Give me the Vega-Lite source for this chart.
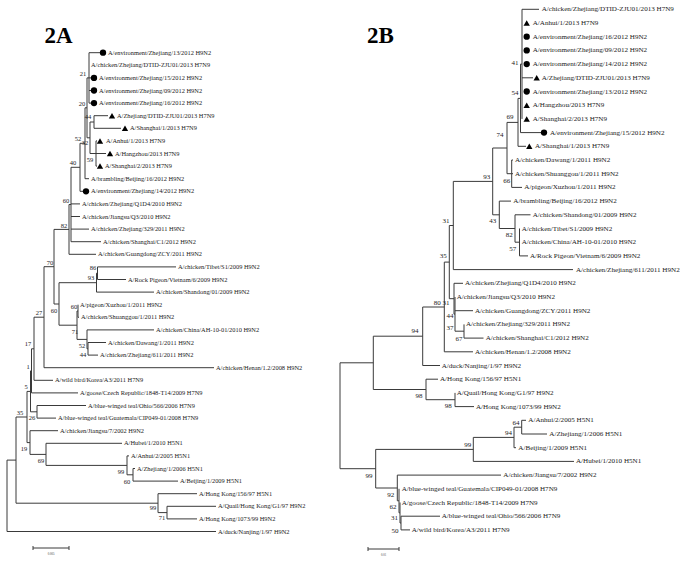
{
"$schema":"https://vega.github.io/schema/vega-lite/v6.json",
"width":683,"height":563,"padding":0,
"autosize":{"type":"fit","contains":"padding"},
"background":"white",
"config":{"view":{"stroke":null}},
"datasets":{
"segs":[
{"x":89,"x2":89,"y":52.7,"y2":103.1},{"x":94,"x2":94,"y":115.7,"y2":128.3},{"x":96,"x2":96,"y":140.9,"y2":166.1},{"x":90,"x2":90,"y":122,"y2":153.5},{"x":87,"x2":87,"y":77.9,"y2":137.8},{"x":85,"x2":85,"y":107.8,"y2":178.7},{"x":80,"x2":80,"y":143.3,"y2":191.3},{"x":71,"x2":71,"y":167.3,"y2":241.7},{"x":69,"x2":69,"y":204.5,"y2":254.3},{"x":97.5,"x2":97.5,"y":266.9,"y2":279.5},{"x":96.5,"x2":96.5,"y":273.2,"y2":292.1},{"x":78,"x2":78,"y":304.7,"y2":317.3},{"x":88,"x2":88,"y":342.5,"y2":355.1},{"x":87,"x2":87,"y":329.9,"y2":348.8},{"x":77,"x2":77,"y":311,"y2":339.4},{"x":59,"x2":59,"y":282.7,"y2":325.2},{"x":54,"x2":54,"y":229.4,"y2":304},{"x":44,"x2":44,"y":266.7,"y2":367.7},{"x":34,"x2":34,"y":317.2,"y2":380.3},{"x":31.5,"x2":31.5,"y":348.8,"y2":392.9},{"x":37,"x2":37,"y":405.5,"y2":418.1},{"x":30.5,"x2":30.5,"y":370.9,"y2":411.8},{"x":133,"x2":133,"y":468.5,"y2":481.1},{"x":127,"x2":127,"y":455.9,"y2":474.8},{"x":46,"x2":46,"y":443.3,"y2":465.4},{"x":30,"x2":30,"y":430.7,"y2":454.4},{"x":27,"x2":27,"y":391.4,"y2":442.6},{"x":167,"x2":167,"y":506.3,"y2":518.9},{"x":158,"x2":158,"y":493.7,"y2":512.6},{"x":16,"x2":16,"y":417,"y2":503.2},{"x":7,"x2":7,"y":460.1,"y2":531.5},
{"x":89,"x2":100,"y":52.7,"y2":52.7},{"x":89,"x2":91,"y":77.9,"y2":77.9},{"x":89,"x2":91,"y":90.5,"y2":90.5},{"x":89,"x2":91,"y":103.1,"y2":103.1},{"x":94,"x2":108,"y":115.7,"y2":115.7},{"x":94,"x2":121,"y":128.3,"y2":128.3},{"x":96,"x2":97,"y":140.9,"y2":140.9},{"x":96,"x2":106,"y":153.5,"y2":153.5},{"x":96,"x2":97,"y":166.1,"y2":166.1},{"x":85,"x2":89,"y":178.7,"y2":178.7},{"x":80,"x2":83,"y":191.3,"y2":191.3},{"x":71,"x2":80,"y":203.9,"y2":203.9},{"x":71,"x2":80,"y":216.5,"y2":216.5},{"x":71,"x2":89,"y":229.1,"y2":229.1},{"x":71,"x2":101,"y":241.7,"y2":241.7},{"x":69,"x2":96,"y":254.3,"y2":254.3},{"x":97.5,"x2":176,"y":266.9,"y2":266.9},{"x":97.5,"x2":126,"y":279.5,"y2":279.5},{"x":96.5,"x2":154,"y":292.1,"y2":292.1},{"x":78,"x2":79,"y":317.3,"y2":317.3},{"x":87,"x2":154,"y":329.9,"y2":329.9},{"x":88,"x2":106,"y":342.5,"y2":342.5},{"x":88,"x2":98,"y":355.1,"y2":355.1},{"x":44,"x2":214,"y":367.7,"y2":367.7},{"x":34,"x2":53,"y":380.3,"y2":380.3},{"x":31.5,"x2":78,"y":392.9,"y2":392.9},{"x":37,"x2":86,"y":405.5,"y2":405.5},{"x":37,"x2":56,"y":418.1,"y2":418.1},{"x":30,"x2":58,"y":430.7,"y2":430.7},{"x":46,"x2":122,"y":443.3,"y2":443.3},{"x":127,"x2":129,"y":455.9,"y2":455.9},{"x":133,"x2":135,"y":468.5,"y2":468.5},{"x":133,"x2":178,"y":481.1,"y2":481.1},{"x":158,"x2":197,"y":493.7,"y2":493.7},{"x":167,"x2":216,"y":506.3,"y2":506.3},{"x":167,"x2":197,"y":518.9,"y2":518.9},{"x":7,"x2":216,"y":531.5,"y2":531.5},
{"x":87,"x2":89,"y":77.9,"y2":77.9},{"x":90,"x2":94,"y":122,"y2":122},{"x":90,"x2":96,"y":153.5,"y2":153.5},{"x":87,"x2":90,"y":137.8,"y2":137.8},{"x":85,"x2":87,"y":107.8,"y2":107.8},{"x":80,"x2":85,"y":143.3,"y2":143.3},{"x":71,"x2":80,"y":167.3,"y2":167.3},{"x":69,"x2":71,"y":204.5,"y2":204.5},{"x":54,"x2":69,"y":229.4,"y2":229.4},{"x":96.5,"x2":97.5,"y":273.2,"y2":273.2},{"x":59,"x2":96.5,"y":282.7,"y2":282.7},{"x":77,"x2":78,"y":311,"y2":311},{"x":87,"x2":88,"y":348.8,"y2":348.8},{"x":77,"x2":87,"y":339.4,"y2":339.4},{"x":59,"x2":77,"y":325.2,"y2":325.2},{"x":54,"x2":59,"y":304,"y2":304},{"x":44,"x2":54,"y":266.7,"y2":266.7},{"x":34,"x2":44,"y":317.2,"y2":317.2},{"x":31.5,"x2":34,"y":348.8,"y2":348.8},{"x":30.5,"x2":31.5,"y":370.9,"y2":370.9},{"x":30.5,"x2":37,"y":411.8,"y2":411.8},{"x":27,"x2":30.5,"y":391.4,"y2":391.4},{"x":127,"x2":133,"y":474.8,"y2":474.8},{"x":46,"x2":127,"y":465.4,"y2":465.4},{"x":30,"x2":46,"y":454.4,"y2":454.4},{"x":27,"x2":30,"y":442.6,"y2":442.6},{"x":16,"x2":27,"y":417,"y2":417},{"x":158,"x2":167,"y":512.6,"y2":512.6},{"x":16,"x2":158,"y":503.2,"y2":503.2},{"x":7,"x2":16,"y":460.1,"y2":460.1},
{"x":522,"x2":522,"y":9.3,"y2":118.9},{"x":520.5,"x2":520.5,"y":64.1,"y2":132.6},{"x":518,"x2":518,"y":98.4,"y2":146.3},{"x":511.7,"x2":511.7,"y":160,"y2":187.4},{"x":507,"x2":507,"y":122.4,"y2":173.7},{"x":519.5,"x2":519.5,"y":228.5,"y2":255.9},{"x":515,"x2":515,"y":214.8,"y2":242.2},{"x":499.3,"x2":499.3,"y":201.1,"y2":228.5},{"x":492.7,"x2":492.7,"y":148,"y2":214.8},{"x":453.3,"x2":453.3,"y":181.4,"y2":269.6},{"x":464,"x2":464,"y":324.4,"y2":338.1},{"x":455,"x2":455,"y":297,"y2":331.2},{"x":454,"x2":454,"y":283.3,"y2":314.1},{"x":449.3,"x2":449.3,"y":225.5,"y2":298.7},{"x":444.3,"x2":444.3,"y":262.1,"y2":351.8},{"x":422.7,"x2":422.7,"y":307,"y2":365.5},{"x":455,"x2":455,"y":392.9,"y2":406.6},{"x":426,"x2":426,"y":379.2,"y2":399.7},{"x":373.3,"x2":373.3,"y":336.2,"y2":389.5},{"x":521.7,"x2":521.7,"y":420.3,"y2":434},{"x":514,"x2":514,"y":427.2,"y2":447.7},{"x":473.3,"x2":473.3,"y":437.4,"y2":461.4},{"x":401,"x2":401,"y":516.2,"y2":529.9},{"x":400,"x2":400,"y":502.5,"y2":523},{"x":399,"x2":399,"y":488.8,"y2":512.8},{"x":397.3,"x2":397.3,"y":475.1,"y2":500.8},{"x":375.7,"x2":375.7,"y":449.4,"y2":488},{"x":340,"x2":340,"y":362.8,"y2":468.7},
{"x":522,"x2":539,"y":9.3,"y2":9.3},{"x":522,"x2":533,"y":77.8,"y2":77.8},{"x":520.5,"x2":541,"y":132.6,"y2":132.6},{"x":518,"x2":526,"y":146.3,"y2":146.3},{"x":511.7,"x2":513,"y":160,"y2":160},{"x":511.7,"x2":513,"y":173.7,"y2":173.7},{"x":511.7,"x2":522,"y":187.4,"y2":187.4},{"x":499.3,"x2":511,"y":201.1,"y2":201.1},{"x":515,"x2":530.5,"y":214.8,"y2":214.8},{"x":519.5,"x2":528,"y":255.9,"y2":255.9},{"x":453.3,"x2":573,"y":269.6,"y2":269.6},{"x":454,"x2":463,"y":283.3,"y2":283.3},{"x":455,"x2":473,"y":310.7,"y2":310.7},{"x":464,"x2":483.5,"y":338.1,"y2":338.1},{"x":444.3,"x2":473,"y":351.8,"y2":351.8},{"x":422.7,"x2":440,"y":365.5,"y2":365.5},{"x":426,"x2":438,"y":379.2,"y2":379.2},{"x":455,"x2":474,"y":406.6,"y2":406.6},{"x":521.7,"x2":526,"y":420.3,"y2":420.3},{"x":521.7,"x2":547,"y":434,"y2":434},{"x":514,"x2":516,"y":447.7,"y2":447.7},{"x":473.3,"x2":574,"y":461.4,"y2":461.4},{"x":397.3,"x2":501,"y":475.1,"y2":475.1},{"x":401,"x2":440,"y":516.2,"y2":516.2},{"x":401,"x2":410,"y":529.9,"y2":529.9},
{"x":520.5,"x2":522,"y":64.1,"y2":64.1},{"x":518,"x2":520.5,"y":98.4,"y2":98.4},{"x":507,"x2":518,"y":122.4,"y2":122.4},{"x":507,"x2":511.7,"y":173.7,"y2":173.7},{"x":492.7,"x2":507,"y":148,"y2":148},{"x":515,"x2":519.5,"y":242.2,"y2":242.2},{"x":499.3,"x2":515,"y":228.5,"y2":228.5},{"x":492.7,"x2":499.3,"y":214.8,"y2":214.8},{"x":453.3,"x2":492.7,"y":181.4,"y2":181.4},{"x":449.3,"x2":453.3,"y":225.5,"y2":225.5},{"x":455,"x2":464,"y":331.2,"y2":331.2},{"x":454,"x2":455,"y":314.1,"y2":314.1},{"x":449.3,"x2":454,"y":298.7,"y2":298.7},{"x":444.3,"x2":449.3,"y":262.1,"y2":262.1},{"x":422.7,"x2":444.3,"y":307,"y2":307},{"x":373.3,"x2":422.7,"y":336.2,"y2":336.2},{"x":426,"x2":455,"y":399.7,"y2":399.7},{"x":373.3,"x2":426,"y":389.5,"y2":389.5},{"x":340,"x2":373.3,"y":362.8,"y2":362.8},{"x":514,"x2":521.7,"y":427.2,"y2":427.2},{"x":473.3,"x2":514,"y":437.4,"y2":437.4},{"x":375.7,"x2":473.3,"y":449.4,"y2":449.4},{"x":400,"x2":401,"y":523,"y2":523},{"x":399,"x2":400,"y":512.8,"y2":512.8},{"x":397.3,"x2":399,"y":500.8,"y2":500.8},{"x":375.7,"x2":397.3,"y":488,"y2":488},{"x":340,"x2":375.7,"y":468.7,"y2":468.7},
{"x":33,"x2":69,"y":548,"y2":548},{"x":33,"x2":33,"y":546,"y2":550},{"x":69,"x2":69,"y":546,"y2":550},{"x":368,"x2":399,"y":549,"y2":549},{"x":368,"x2":368,"y":547,"y2":551},{"x":399,"x2":399,"y":547,"y2":551}
],
"labels":[
{"p":"A","x":108,"y":52.7,"t":"A/environment/Zhejiang/13/2012 H9N2"},{"p":"A","x":91,"y":65.3,"t":"A/chicken/Zhejiang/DTID-ZJU01/2013 H7N9"},{"p":"A","x":99,"y":77.9,"t":"A/environment/Zhejiang/15/2012 H9N2"},{"p":"A","x":99,"y":90.5,"t":"A/environment/Zhejiang/09/2012 H9N2"},{"p":"A","x":99,"y":103.1,"t":"A/environment/Zhejiang/16/2012 H9N2"},{"p":"A","x":117,"y":115.7,"t":"A/Zhejiang/DTID-ZJU01/2013 H7N9"},{"p":"A","x":130,"y":128.3,"t":"A/Shanghai/1/2013 H7N9"},{"p":"A","x":106,"y":140.9,"t":"A/Anhui/1/2013 H7N9"},{"p":"A","x":115,"y":153.5,"t":"A/Hangzhou/2013 H7N9"},{"p":"A","x":105,"y":166.1,"t":"A/Shanghai/2/2013 H7N9"},{"p":"A","x":91,"y":178.7,"t":"A/brambling/Beijing/16/2012 H9N2"},{"p":"A","x":91,"y":191.3,"t":"A/environment/Zhejiang/14/2012 H9N2"},{"p":"A","x":82,"y":203.9,"t":"A/chicken/Zhejiang/Q1D4/2010 H9N2"},{"p":"A","x":82,"y":216.5,"t":"A/chicken/Jiangsu/Q3/2010 H9N2"},{"p":"A","x":91,"y":229.1,"t":"A/chicken/Zhejiang/329/2011 H9N2"},{"p":"A","x":103,"y":241.7,"t":"A/chicken/Shanghai/C1/2012 H9N2"},{"p":"A","x":98,"y":254.3,"t":"A/chicken/Guangdong/ZCY/2011 H9N2"},{"p":"A","x":178,"y":266.9,"t":"A/chicken/Tibet/S1/2009 H9N2"},{"p":"A","x":128,"y":279.5,"t":"A/Rock Pigeon/Vietnam/6/2009 H9N2"},{"p":"A","x":156,"y":292.1,"t":"A/chicken/Shandong/01/2009 H9N2"},{"p":"A","x":80,"y":304.7,"t":"A/pigeon/Xuzhou/1/2011 H9N2"},{"p":"A","x":81,"y":317.3,"t":"A/chicken/Shuanggou/1/2011 H9N2"},{"p":"A","x":156,"y":329.9,"t":"A/chicken/China/AH-10-01/2010 H9N2"},{"p":"A","x":108,"y":342.5,"t":"A/chicken/Dawang/1/2011 H9N2"},{"p":"A","x":100,"y":355.1,"t":"A/chicken/Zhejiang/611/2011 H9N2"},{"p":"A","x":216,"y":367.7,"t":"A/chicken/Henan/1.2/2008 H9N2"},{"p":"A","x":55,"y":380.3,"t":"A/wild bird/Korea/A3/2011 H7N9"},{"p":"A","x":80,"y":392.9,"t":"A/goose/Czech Republic/1848-T14/2009 H7N9"},{"p":"A","x":88,"y":405.5,"t":"A/blue-winged teal/Ohio/566/2006 H7N9"},{"p":"A","x":58,"y":418.1,"t":"A/blue-winged teal/Guatemala/CIP049-01/2008 H7N9"},{"p":"A","x":60,"y":430.7,"t":"A/chicken/Jiangsu/7/2002 H9N2"},{"p":"A","x":124,"y":443.3,"t":"A/Hubei/1/2010 H5N1"},{"p":"A","x":131,"y":455.9,"t":"A/Anhui/2/2005 H5N1"},{"p":"A","x":137,"y":468.5,"t":"A/Zhejiang/1/2006 H5N1"},{"p":"A","x":180,"y":481.1,"t":"A/Beijing/1/2009 H5N1"},{"p":"A","x":199,"y":493.7,"t":"A/Hong Kong/156/97 H5N1"},{"p":"A","x":218,"y":506.3,"t":"A/Quail/Hong Kong/G1/97 H9N2"},{"p":"A","x":199,"y":518.9,"t":"A/Hong Kong/1073/99 H9N2"},{"p":"A","x":218,"y":531.5,"t":"A/duck/Nanjing/1/97 H9N2"},
{"p":"B","x":541.7,"y":9.3,"t":"A/chicken/Zhejiang/DTID-ZJU01/2013 H7N9"},{"p":"B","x":532.7,"y":23,"t":"A/Anhui/1/2013 H7N9"},{"p":"B","x":532.7,"y":36.7,"t":"A/environment/Zhejiang/16/2012 H9N2"},{"p":"B","x":532.7,"y":50.4,"t":"A/environment/Zhejiang/09/2012 H9N2"},{"p":"B","x":532.7,"y":64.1,"t":"A/environment/Zhejiang/14/2012 H9N2"},{"p":"B","x":541.7,"y":77.8,"t":"A/Zhejiang/DTID-ZJU01/2013 H7N9"},{"p":"B","x":532.7,"y":91.5,"t":"A/environment/Zhejiang/13/2012 H9N2"},{"p":"B","x":532.7,"y":105.2,"t":"A/Hangzhou/2013 H7N9"},{"p":"B","x":532.7,"y":118.9,"t":"A/Shanghai/2/2013 H7N9"},{"p":"B","x":550,"y":132.6,"t":"A/environment/Zhejiang/15/2012 H9N2"},{"p":"B","x":535,"y":146.3,"t":"A/Shanghai/1/2013 H7N9"},{"p":"B","x":515,"y":160,"t":"A/chicken/Dawang/1/2011 H9N2"},{"p":"B","x":515,"y":173.7,"t":"A/chicken/Shuanggou/1/2011 H9N2"},{"p":"B","x":524.3,"y":187.4,"t":"A/pigeon/Xuzhou/1/2011 H9N2"},{"p":"B","x":513.3,"y":201.1,"t":"A/brambling/Beijing/16/2012 H9N2"},{"p":"B","x":532.7,"y":214.8,"t":"A/chicken/Shandong/01/2009 H9N2"},{"p":"B","x":521.7,"y":228.5,"t":"A/chicken/Tibet/S1/2009 H9N2"},{"p":"B","x":521.7,"y":242.2,"t":"A/chicken/China/AH-10-01/2010 H9N2"},{"p":"B","x":530,"y":255.9,"t":"A/Rock Pigeon/Vietnam/6/2009 H9N2"},{"p":"B","x":576,"y":269.6,"t":"A/chicken/Zhejiang/611/2011 H9N2"},{"p":"B","x":465,"y":283.3,"t":"A/chicken/Zhejiang/Q1D4/2010 H9N2"},{"p":"B","x":456.7,"y":297,"t":"A/chicken/Jiangsu/Q3/2010 H9N2"},{"p":"B","x":475,"y":310.7,"t":"A/chicken/Guangdong/ZCY/2011 H9N2"},{"p":"B","x":466,"y":324.4,"t":"A/chicken/Zhejiang/329/2011 H9N2"},{"p":"B","x":485.7,"y":338.1,"t":"A/chicken/Shanghai/C1/2012 H9N2"},{"p":"B","x":475,"y":351.8,"t":"A/chicken/Henan/1.2/2008 H9N2"},{"p":"B","x":441.7,"y":365.5,"t":"A/duck/Nanjing/1/97 H9N2"},{"p":"B","x":440,"y":379.2,"t":"A/Hong Kong/156/97 H5N1"},{"p":"B","x":456.7,"y":392.9,"t":"A/Quail/Hong Kong/G1/97 H9N2"},{"p":"B","x":476,"y":406.6,"t":"A/Hong Kong/1073/99 H9N2"},{"p":"B","x":528.3,"y":420.3,"t":"A/Anhui/2/2005 H5N1"},{"p":"B","x":549.3,"y":434,"t":"A/Zhejiang/1/2006 H5N1"},{"p":"B","x":518.3,"y":447.7,"t":"A/Beijing/1/2009 H5N1"},{"p":"B","x":576,"y":461.4,"t":"A/Hubei/1/2010 H5N1"},{"p":"B","x":503.3,"y":475.1,"t":"A/chicken/Jiangsu/7/2002 H9N2"},{"p":"B","x":401.7,"y":488.8,"t":"A/blue-winged teal/Guatemala/CIP049-01/2008 H7N9"},{"p":"B","x":401.7,"y":502.5,"t":"A/goose/Czech Republic/1848-T14/2009 H7N9"},{"p":"B","x":441.7,"y":516.2,"t":"A/blue-winged teal/Ohio/566/2006 H7N9"},{"p":"B","x":411.7,"y":529.9,"t":"A/wild bird/Korea/A3/2011 H7N9"}
],
"boot":[
{"p":"A","x":83,"y":74,"t":"21"},{"p":"A","x":82,"y":104,"t":"20"},{"p":"A","x":88,"y":117,"t":"44"},{"p":"A","x":78,"y":139,"t":"52"},{"p":"A","x":85,"y":143,"t":"32"},{"p":"A","x":90,"y":160,"t":"59"},{"p":"A","x":73,"y":163,"t":"40"},{"p":"A","x":66,"y":201,"t":"60"},{"p":"A","x":64,"y":226,"t":"82"},{"p":"A","x":50,"y":263,"t":"70"},{"p":"A","x":93,"y":268,"t":"86"},{"p":"A","x":91,"y":278,"t":"93"},{"p":"A","x":74,"y":307,"t":"60"},{"p":"A","x":54,"y":311,"t":"60"},{"p":"A","x":75,"y":332,"t":"71"},{"p":"A","x":82,"y":346,"t":"52"},{"p":"A","x":83,"y":355,"t":"44"},{"p":"A","x":39,"y":313,"t":"27"},{"p":"A","x":28,"y":344,"t":"17"},{"p":"A","x":28,"y":367,"t":"1"},{"p":"A","x":26,"y":387,"t":"5"},{"p":"A","x":20,"y":413,"t":"35"},{"p":"A","x":32,"y":418,"t":"26"},{"p":"A","x":24,"y":449,"t":"19"},{"p":"A","x":41,"y":461,"t":"69"},{"p":"A","x":121,"y":472,"t":"99"},{"p":"A","x":127,"y":482,"t":"60"},{"p":"A","x":153,"y":508,"t":"99"},{"p":"A","x":162,"y":518,"t":"71"},
{"p":"B","x":515,"y":63,"t":"41"},{"p":"B","x":515,"y":93,"t":"54"},{"p":"B","x":510,"y":117,"t":"69"},{"p":"B","x":500,"y":135,"t":"74"},{"p":"B","x":506.7,"y":181,"t":"66"},{"p":"B","x":486.7,"y":176.7,"t":"93"},{"p":"B","x":492.7,"y":221,"t":"43"},{"p":"B","x":509.3,"y":235.3,"t":"82"},{"p":"B","x":512.7,"y":249,"t":"57"},{"p":"B","x":446,"y":220.7,"t":"31"},{"p":"B","x":443.3,"y":256,"t":"35"},{"p":"B","x":437.3,"y":302.7,"t":"80"},{"p":"B","x":446,"y":302.7,"t":"31"},{"p":"B","x":450,"y":316,"t":"44"},{"p":"B","x":450,"y":328.3,"t":"37"},{"p":"B","x":459,"y":339.3,"t":"67"},{"p":"B","x":415,"y":331,"t":"94"},{"p":"B","x":419,"y":396,"t":"98"},{"p":"B","x":448.3,"y":406,"t":"98"},{"p":"B","x":516,"y":422.7,"t":"64"},{"p":"B","x":508.5,"y":432.7,"t":"94"},{"p":"B","x":467.7,"y":445,"t":"99"},{"p":"B","x":369,"y":475.5,"t":"99"},{"p":"B","x":390.7,"y":495,"t":"92"},{"p":"B","x":393,"y":507.3,"t":"62"},{"p":"B","x":394.5,"y":518,"t":"31"},{"p":"B","x":395,"y":530.5,"t":"50"}
],
"sym":[
{"x":103,"y":52.7,"s":"circle"},{"x":94,"y":77.9,"s":"circle"},{"x":94,"y":90.5,"s":"circle"},{"x":94,"y":103.1,"s":"circle"},{"x":86,"y":191.3,"s":"circle"},
{"x":112,"y":115.7,"s":"triangle"},{"x":125,"y":128.3,"s":"triangle"},{"x":100,"y":140.9,"s":"triangle"},{"x":110,"y":153.5,"s":"triangle"},{"x":100,"y":166.1,"s":"triangle"},
{"x":526.7,"y":36.7,"s":"circle"},{"x":526.7,"y":50.4,"s":"circle"},{"x":526.7,"y":64.1,"s":"circle"},{"x":526.7,"y":91.5,"s":"circle"},{"x":544,"y":132.6,"s":"circle"},
{"x":526.7,"y":23,"s":"triangle"},{"x":536.7,"y":77.8,"s":"triangle"},{"x":526.7,"y":105.2,"s":"triangle"},{"x":526.7,"y":118.9,"s":"triangle"},{"x":529.3,"y":146.3,"s":"triangle"}
],
"titles":[{"x":58.5,"y":36,"t":"2A"},{"x":380.5,"y":36,"t":"2B"}],
"bars":[{"x":51,"y":553.5,"t":"0.005"},{"x":383.5,"y":555,"t":"0.01"}]
},
"encoding":{
"x":{"field":"x","type":"quantitative","scale":{"domain":[0,683],"nice":false,"zero":false},"axis":null},
"y":{"field":"y","type":"quantitative","scale":{"domain":[0,563],"nice":false,"zero":false,"reverse":true},"axis":null}
},
"layer":[
{"data":{"name":"segs"},"mark":{"type":"rule","color":"#3a3a3a","strokeWidth":1},"encoding":{"x2":{"field":"x2"},"y2":{"field":"y2"}}},
{"data":{"name":"sym"},"mark":{"type":"point","filled":true,"color":"#000","opacity":1},"encoding":{"shape":{"field":"s","type":"nominal","scale":{"domain":["circle","triangle"],"range":["circle","triangle-up"]},"legend":null},"size":{"value":40}}},
{"data":{"name":"labels"},"transform":[{"filter":"datum.p==='A'"}],"mark":{"type":"text","align":"left","baseline":"middle","font":"Liberation Serif","fontSize":6.4,"color":"#222"},"encoding":{"text":{"field":"t"}}},
{"data":{"name":"labels"},"transform":[{"filter":"datum.p==='B'"}],"mark":{"type":"text","align":"left","baseline":"middle","font":"Liberation Serif","fontSize":7.1,"color":"#222"},"encoding":{"text":{"field":"t"}}},
{"data":{"name":"boot"},"transform":[{"filter":"datum.p==='A'"}],"mark":{"type":"text","align":"center","baseline":"middle","font":"Liberation Serif","fontSize":6.5,"color":"#222"},"encoding":{"text":{"field":"t"}}},
{"data":{"name":"boot"},"transform":[{"filter":"datum.p==='B'"}],"mark":{"type":"text","align":"center","baseline":"middle","font":"Liberation Serif","fontSize":7,"color":"#222"},"encoding":{"text":{"field":"t"}}},
{"data":{"name":"titles"},"mark":{"type":"text","align":"center","baseline":"middle","font":"Liberation Serif","fontSize":23,"fontWeight":"bold","color":"#000"},"encoding":{"text":{"field":"t"}}},
{"data":{"name":"bars"},"mark":{"type":"text","align":"center","baseline":"middle","font":"Liberation Serif","fontSize":3,"color":"#444"},"encoding":{"text":{"field":"t"}}}
]
}
